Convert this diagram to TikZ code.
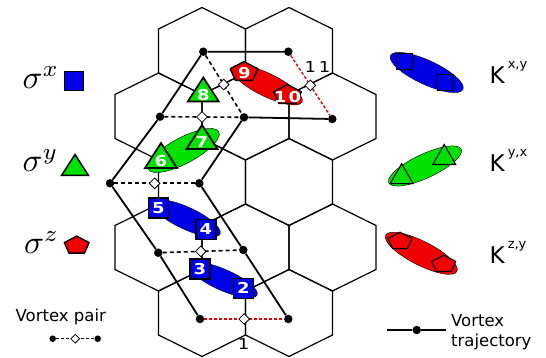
\documentclass[tikz,border=0pt]{standalone}
\usepackage{fontspec}
\setmainfont{DejaVu Sans}
\newfontfamily\opfont[FakeStretch=1.2]{DejaVu Sans}
\usetikzlibrary{shapes.geometric}

\definecolor{opblue}{RGB}{0,0,230}
\definecolor{opgreen}{RGB}{0,225,0}
\definecolor{opred}{RGB}{240,0,0}

\tikzset{
  hexedge/.style={line width=1.2pt},
  traj/.style={line width=1.8pt},
  pairline/.style={line width=1.6pt, dash pattern=on 4pt off 3pt},
  redpair/.style={opred, line width=1.4pt, dash pattern=on 3pt off 2pt},
  legpair/.style={line width=0.8pt, dash pattern=on 3pt off 2pt},
  vortex/.style={circle, fill=black, inner sep=0pt, minimum size=8.5pt},
  pairmark/.style={diamond, draw=black, solid, fill=white, line width=0.8pt, inner sep=0pt, minimum size=11pt},
  opnum/.style={text=white, font=\fontsize{15}{15}\opfont\bfseries, inner sep=0pt},
  xop/.style={rectangle, draw=black, line width=1.6pt, fill=opblue, minimum size=20pt, inner sep=0pt, opnum},
  yshape/.style={fill=opgreen, draw=black, line width=1.7pt},
  zshape/.style={fill=opred, draw=black, line width=1.4pt, line join=round},
  xlink/.style={fill=opblue, draw=black, line width=0.4pt},
  ylink/.style={fill=opgreen, draw=black, line width=0.4pt},
  zlink/.style={fill=opred, draw=black, line width=0.4pt},
  numlabel/.style={font=\fontsize{15}{15}\opfont, inner sep=0pt},
  legtext/.style={font=\fontsize{16.5}{16.5}\selectfont, inner sep=0pt},
  sigmalabel/.style={anchor=base west, inner sep=0pt},
  klabel/.style={anchor=base west, inner sep=0pt, font=\fontsize{23}{23}\selectfont},
}

% triangle: centre x, centre y, half width, half height
\newcommand{\ytri}[5][]{%
  \draw[yshape,#1] (#2,{#3-#5}) -- ({#2+#4},{#3+#5}) -- ({#2-#4},{#3+#5}) -- cycle;}
% flat pentagon: centre x, centre y, radius
\newcommand{\zpent}[4][]{%
  \draw[zshape,#1,shift={(#2,#3)},yscale=0.72] (-90:#4) -- (-18:#4) -- (54:#4) -- (126:#4) -- (198:#4) -- cycle;}
\newcommand{\ksup}[1]{\kern3pt\raisebox{15pt}{\fontsize{13}{13}\selectfont #1}}
\newcommand{\bigsigma}[1]{\scalebox{3.3}{$\sigma^{#1}$}}

\begin{document}
\begin{tikzpicture}[x=1pt, y=-1pt]
\useasboundingbox (0,0) rectangle (546,358);

% honeycomb lattice
\foreach \cx/\cy in {202/51, 289/51, 158.5/116.5, 245.5/116.5, 332.5/116.5,
  202/182, 289/182, 158.5/247.5, 245.5/247.5, 332.5/247.5, 202/313, 289/313}
  \draw[hexedge, shift={(\cx,\cy)}] (43.5,-22) -- (43.5,22) -- (0,43.5)
    -- (-43.5,22) -- (-43.5,-22) -- (0,-43.5) -- cycle;

% link operators
\draw[zlink, rotate around={-26:(267,85)}] (267,85) ellipse [x radius=39pt, y radius=11.5pt];
\draw[ylink, rotate around={28:(183.5,150.5)}] (183.5,150.5) ellipse [x radius=40pt, y radius=13pt];
\draw[xlink, rotate around={-25:(186.5,218.3)}] (186.5,218.3) ellipse [x radius=37pt, y radius=11pt];
\draw[xlink, rotate around={-24:(223.3,280)}] (223.3,280) ellipse [x radius=37pt, y radius=10.5pt];

% vortices
\node[vortex] (vl1) at (200,319) {};
\node[vortex] (vl2) at (158.3,252.7) {};
\node[vortex] (vl3) at (110,183.3) {};
\node[vortex] (vl4) at (160,116.7) {};
\node[vortex] (vl5) at (203.3,51.7) {};
\node[vortex] (vr1) at (288.3,319) {};
\node[vortex] (vr2) at (243.3,250) {};
\node[vortex] (vr3) at (199.3,183.3) {};
\node[vortex] (vr4) at (244,117.3) {};
\node[vortex] (vt1) at (288.3,51.7) {};
\node[vortex] (vt2) at (332.3,119) {};

% trajectories
\draw[traj] (vl1) -- (vl2) -- (vl3) -- (vl4) -- (vl5) -- (vt1);
\draw[traj] (vr1) -- (vr2) -- (vr3) -- (vr4) -- (vt2);

% vortex pairs
\draw[redpair] (vl1) -- node[pairmark] (p1) {} (vr1);
\draw[pairline] (vl2) -- node[pairmark] (p2) {} (vr2);
\draw[pairline] (vl3) -- node[pairmark] (p3) {} (vr3);
\draw[pairline] (vl4) -- node[pairmark] (p4) {} (vr4);
\draw[pairline] (vl5) -- node[pairmark] (p5) {} (vr4);
\draw[redpair] (vt1) -- node[pairmark] (p6) {} (vt2);
\node[numlabel] (lab1) at (243.5,344) {1};
\node[numlabel] (lab11) at (317.5,67) {1\kern3pt1};

% single spin operators
\node[xop] (o2) at (243.3,288.3) {2};
\node[xop] (o3) at (200,269) {3};
\node[xop] (o4) at (206,229.5) {4};
\node[xop] (o5) at (158.5,208.3) {5};
\ytri{161}{155.5}{16}{12.5} \node[opnum] (o6) at (161,161) {6};
\ytri{202}{137}{15.5}{12} \node[opnum] (o7) at (202,142.5) {7};
\ytri{203.3}{89.5}{15.5}{12} \node[opnum] (o8) at (203.3,95) {8};
\zpent{244}{72}{14.5} \node[opnum] (o9) at (244.5,73) {9};
\zpent{287.5}{95}{14.5} \node[opnum] (o10) at (287.5,97) {1\kern2pt0};

% legend: single spins
\node[sigmalabel] (sx) at (22.5,88.3) {\bigsigma{x}};
\node[xop, minimum size=19pt, line width=1.2pt] (kx) at (74.3,81) {};
\node[sigmalabel] (sy) at (22.5,171.7) {\bigsigma{y}};
\ytri[line width=1.5pt]{75}{165}{13.5}{10.5}
\node[sigmalabel] (sz) at (24,253) {\bigsigma{z}};
\zpent[line width=1.3pt]{76.7}{245.5}{13.1}

% legend: links
\draw[xlink, rotate around={-25:(426.7,72.5)}] (426.7,72.5) ellipse [x radius=40pt, y radius=12pt];
\node[xop, minimum size=16pt, line width=1pt] (lx1) at (404.7,61.8) {};
\node[xop, minimum size=16pt, line width=1pt] (lx2) at (445.8,82.2) {};
\node[klabel] (kxy) at (489.5,83.3) {K\ksup{x,y}};
\draw[ylink, rotate around={25:(425,166)}] (425,166) ellipse [x radius=40pt, y radius=12pt];
\ytri[line width=1.1pt]{401.7}{173.7}{11.5}{10}
\ytri[line width=1.1pt]{444.2}{154.5}{11.5}{10}
\node[klabel] (kyx) at (489.5,171.7) {K\ksup{y,x}};
\draw[zlink, rotate around={-27:(421.3,253.3)}] (421.3,253.3) ellipse [x radius=40pt, y radius=12pt];
\zpent[line width=1.1pt]{400}{241.3}{12.6}
\zpent[line width=1.1pt]{443.8}{264.2}{12.6}
\node[klabel] (kzy) at (489.5,263.3) {K\ksup{z,y}};

% legend: vortices
\node[legtext] (pairtext) at (60.8,317) {Vortex pair};
\node[vortex, minimum size=6.5pt] (lp1) at (52.7,338.7) {};
\node[vortex, minimum size=6.5pt] (lp2) at (97.7,338.7) {};
\draw[legpair] (lp1) -- node[pairmark, minimum size=9pt] (lpm) {} (lp2);
\coordinate (lt1) at (386.7,330);
\coordinate (lt2) at (446,330);
\node[vortex] (ltd) at (416.7,330) {};
\draw[traj] (lt1) -- (ltd) -- (lt2);
\node[legtext, anchor=base west] (trajtext1) at (451,326.5) {Vortex};
\node[legtext, anchor=base west] (trajtext2) at (451,346) {trajectory};
\end{tikzpicture}
\end{document}
